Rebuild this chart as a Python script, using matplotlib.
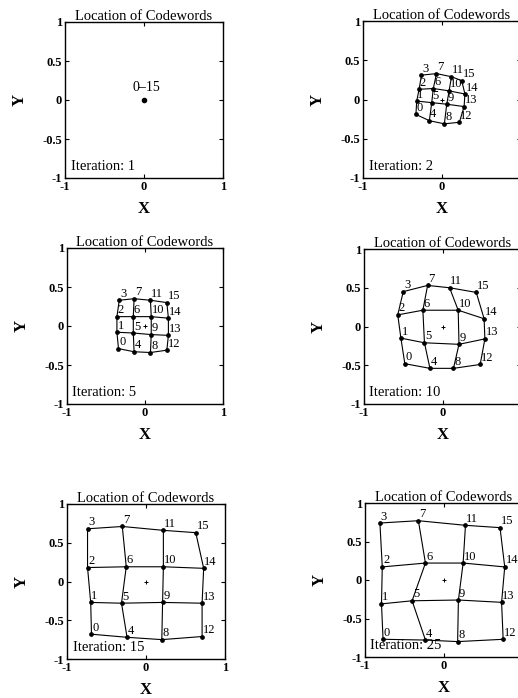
import matplotlib
matplotlib.use("Agg")
import matplotlib.pyplot as plt

plt.rcParams['font.family'] = ['Liberation Serif', 'DejaVu Serif']

W, H = 518, 698

iterations = [1, 2, 5, 10, 15, 25]

# codeword index i = 4*column + row
it1_x = [0.0] * 16
it1_y = [0.0] * 16

it2_x = [-0.33, -0.32, -0.29, -0.26, -0.16, -0.13, -0.11, -0.07,
         0.03, 0.06, 0.09, 0.12, 0.22, 0.28, 0.29, 0.25]
it2_y = [-0.19, -0.02, 0.13, 0.31, -0.27, -0.04, 0.14, 0.33,
         -0.31, -0.06, 0.11, 0.29, -0.29, -0.09, 0.07, 0.24]

it5_x = [-0.34, -0.36, -0.36, -0.33, -0.14, -0.15, -0.15, -0.14,
         0.07, 0.08, 0.08, 0.07, 0.28, 0.30, 0.30, 0.28]
it5_y = [-0.29, -0.08, 0.12, 0.33, -0.33, -0.09, 0.12, 0.35,
         -0.34, -0.11, 0.12, 0.33, -0.31, -0.12, 0.10, 0.30]

it10_x = [-0.48, -0.53, -0.57, -0.50, -0.16, -0.23, -0.25, -0.19,
          0.14, 0.21, 0.20, 0.09, 0.48, 0.54, 0.53, 0.43]
it10_y = [-0.48, -0.15, 0.15, 0.45, -0.54, -0.21, 0.21, 0.53,
          -0.54, -0.23, 0.21, 0.50, -0.49, -0.16, 0.10, 0.44]

it15_x = [-0.69, -0.70, -0.74, -0.74, -0.24, -0.31, -0.25, -0.30,
          0.20, 0.21, 0.22, 0.22, 0.71, 0.71, 0.73, 0.63]
it15_y = [-0.68, -0.27, 0.18, 0.68, -0.72, -0.28, 0.19, 0.71,
          -0.75, -0.27, 0.19, 0.66, -0.71, -0.28, 0.17, 0.63]

it25_x = [-0.77, -0.79, -0.78, -0.81, -0.23, -0.40, -0.23, -0.32,
          0.18, 0.19, 0.25, 0.28, 0.76, 0.74, 0.78, 0.72]
it25_y = [-0.77, -0.31, 0.17, 0.74, -0.78, -0.27, 0.22, 0.77,
          -0.80, -0.26, 0.22, 0.71, -0.77, -0.29, 0.17, 0.68]

xs = [it1_x, it2_x, it5_x, it10_x, it15_x, it25_x]
ys = [it1_y, it2_y, it5_y, it10_y, it15_y, it25_y]

x_ticks = [-1, 0, 1]
x_ticklabels = ['-1', '0', '1']
y_ticks = [-1, -0.5, 0, 0.5, 1]
y_ticklabels = ['-1', '-0.5', '0', '0.5', '1']

# axes boxes in pixels: left, top, right, bottom
boxes = [
    (65, 22, 223, 178),
    (363, 21, 521, 178),
    (67, 248, 223, 404),
    (364, 249, 521, 404),
    (67, 504, 225, 659),
    (365, 503, 522, 657),
]

fig = plt.figure(figsize=(W / 100, H / 100), dpi=100)

for k, (l, t, r, b) in enumerate(boxes):
    ax = fig.add_axes([l / W, (H - b) / H, (r - l) / W, (b - t) / H])
    x = xs[k]
    y = ys[k]
    if k == 0:
        ax.plot([x[0]], [y[0]], 'o', color='black', markersize=3)
        ax.annotate('0\u201315', (x[0], y[0]), xytext=(-8, 4), textcoords='offset points',
                    fontsize=10, ha='left', va='bottom')
    else:
        for c in range(4):
            idx = [4 * c + rr for rr in range(4)]
            ax.plot([x[i] for i in idx], [y[i] for i in idx], '-', color='black', lw=0.8)
        for rr in range(4):
            idx = [4 * c + rr for c in range(4)]
            ax.plot([x[i] for i in idx], [y[i] for i in idx], '-', color='black', lw=0.8)
        ax.plot(x, y, 'o', color='black', markersize=2.4, linestyle='none')
        for i in range(16):
            ax.annotate(str(i), (x[i], y[i]), xytext=(0.5, 0.3), textcoords='offset points',
                        fontsize=9, ha='left', va='bottom')
    ax.plot([0], [0], '+', color='black', markersize=3, mew=0.7)
    ax.set_xlim(-1, 1)
    ax.set_ylim(-1, 1)
    ax.set_xticks(x_ticks)
    labels = list(x_ticklabels)
    if k % 2 == 1:
        labels[-1] = ''  # falls outside the picture, as in the reference
    ax.set_xticklabels(labels, fontsize=9, fontweight='bold')
    ax.set_yticks(y_ticks)
    ax.set_yticklabels(y_ticklabels, fontsize=9, fontweight='bold')
    ax.tick_params(direction='in', top=True, right=True, length=3, width=0.8, pad=2)
    ax.set_title('Location of Codewords', fontsize=10.5, pad=1.5)
    ax.set_xlabel('X', fontsize=12, fontweight='bold', labelpad=6)
    ax.set_ylabel('Y', fontsize=12, fontweight='bold', labelpad=11)
    ax.text(0.035, 0.03, 'Iteration: %d' % iterations[k], transform=ax.transAxes,
            fontsize=10.5, ha='left', va='bottom')
    for s in ax.spines.values():
        s.set_linewidth(1.0)

fig.savefig('out.png', dpi=100)
